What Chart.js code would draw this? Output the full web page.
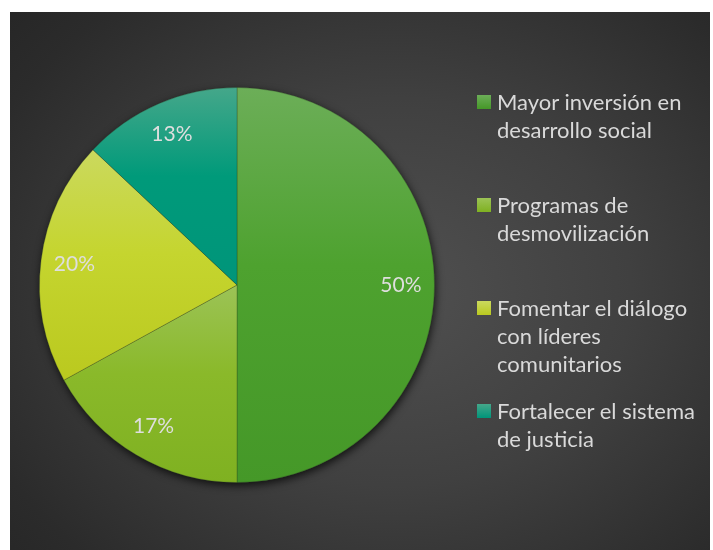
<!DOCTYPE html>
<html>
<head>
<meta charset="utf-8">
<script src="https://cdn.jsdelivr.net/npm/chart.js@4"></script>
<style>
  html, body { margin: 0; padding: 0; background: #ffffff; }
  #wrap { position: relative; width: 713px; height: 550px; overflow: hidden; }
  #panel {
    position: absolute; left: 10px; top: 12px; width: 700px; height: 538px;
    background: radial-gradient(ellipse 75% 80% at 55% 52%, #505050 0%, #404040 45%, #2b2b2b 85%, #262626 100%);
  }
  #pie { position: absolute; left: 0; top: 0; }
  #legend {
    position: absolute; left: 477px; top: 88px; width: 236px;
    font-family: Lato, "Open Sans", sans-serif; font-size: 22px; color: #d9d9d9;
  }
  .item { position: relative; height: 103px; padding-left: 20px; line-height: 28px; white-space: nowrap; }
  .box { position: absolute; left: 0; top: 7px; width: 14px; height: 14px; }
</style>
</head>
<body>
<div id="wrap">
  <div id="panel"></div>
  <canvas id="pie" width="713" height="550"></canvas>
  <div id="legend"></div>
</div>
<script>
// ===============================
// DATA
// ===============================
const categories = [
  ["Mayor inversión en", "desarrollo social"],
  ["Programas de", "desmovilización"],
  ["Fomentar el diálogo", "con líderes", "comunitarios"],
  ["Fortalecer el sistema", "de justicia"],
];
const values = [50, 17, 20, 13];

// light (top of slice) / dark (bottom of slice)
const lightColors = ["#6cae58", "#9cc356", "#cbd95e", "#45a78a"];
const darkColors = ["#459828", "#7fb121", "#bac91f", "#00957a"];
const baseColors = ["#4ea22f", "#8ab92a", "#c5d52f", "#009a7a"];

const total = values.reduce((a, b) => a + b, 0);

// gradient over each slice's own vertical extent
function sliceFill(context) {
  const chart = context.chart;
  const area = chart.chartArea;
  const i = context.dataIndex;
  if (!area || i === undefined) return baseColors[i] || "#888";
  const cx = (area.left + area.right) / 2;
  const cy = (area.top + area.bottom) / 2;
  const r = Math.min(area.right - area.left, area.bottom - area.top) / 2;
  let before = 0;
  for (let k = 0; k < i; k++) before += values[k];
  const a0 = -Math.PI / 2 + (before / total) * Math.PI * 2;
  const a1 = a0 + (values[i] / total) * Math.PI * 2;
  const ys = [cy, cy + r * Math.sin(a0), cy + r * Math.sin(a1)];
  [-Math.PI / 2, Math.PI / 2, Math.PI * 1.5].forEach((a) => {
    if (a > a0 && a < a1) ys.push(cy + r * Math.sin(a));
  });
  const top = Math.min(...ys);
  const bottom = Math.max(...ys);
  const g = chart.ctx.createLinearGradient(0, top, 0, bottom);
  g.addColorStop(0, lightColors[i]);
  g.addColorStop(0.45, baseColors[i]);
  g.addColorStop(1, darkColors[i]);
  return g;
}

// soft shadow under the pie
const pieShadow = {
  id: "pieShadow",
  beforeDatasetsDraw(chart) {
    const arc = chart.getDatasetMeta(0).data[0];
    if (!arc) return;
    const ctx = chart.ctx;
    ctx.save();
    ctx.shadowColor = "rgba(0,0,0,0.75)";
    ctx.shadowBlur = 9;
    ctx.shadowOffsetX = 1;
    ctx.shadowOffsetY = 3;
    ctx.fillStyle = "#3a3a3a";
    ctx.beginPath();
    ctx.arc(arc.x, arc.y, arc.outerRadius, 0, Math.PI * 2);
    ctx.fill();
    ctx.restore();
  },
};

// percentage labels inside slices
const pctLabels = {
  id: "pctLabels",
  afterDatasetsDraw(chart) {
    const ctx = chart.ctx;
    ctx.save();
    ctx.font = '21px Lato, "Open Sans", sans-serif';
    ctx.fillStyle = "#dedede";
    ctx.textAlign = "center";
    ctx.textBaseline = "middle";
    chart.getDatasetMeta(0).data.forEach((arc, i) => {
      const mid = (arc.startAngle + arc.endAngle) / 2;
      const r = arc.outerRadius * 0.83;
      const pct = Math.round((values[i] / total) * 100) + "%";
      ctx.fillText(pct, arc.x + r * Math.cos(mid), arc.y + r * Math.sin(mid));
    });
    ctx.restore();
  },
};

// ===============================
// CHART
// ===============================
const chart = new Chart(document.getElementById("pie"), {
  type: "pie",
  data: {
    labels: categories,
    datasets: [
      {
        data: values,
        backgroundColor: sliceFill,
        borderColor: "rgba(40,60,30,0.3)",
        borderWidth: 1,
      },
    ],
  },
  options: {
    responsive: false,
    animation: false,
    layout: {
      padding: { left: 39, top: 87, right: 278, bottom: 67 },
    },
    plugins: {
      legend: { display: false },
      tooltip: { enabled: false },
    },
  },
  plugins: [pieShadow, pctLabels],
});

// ===============================
// HTML LEGEND
// ===============================
const legend = document.getElementById("legend");
categories.forEach((lines, i) => {
  const item = document.createElement("div");
  item.className = "item";
  const box = document.createElement("span");
  box.className = "box";
  box.style.background = `linear-gradient(${lightColors[i]}, ${darkColors[i]})`;
  item.appendChild(box);
  lines.forEach((line) => {
    const row = document.createElement("div");
    row.textContent = line;
    item.appendChild(row);
  });
  legend.appendChild(item);
});
</script>
</body>
</html>
